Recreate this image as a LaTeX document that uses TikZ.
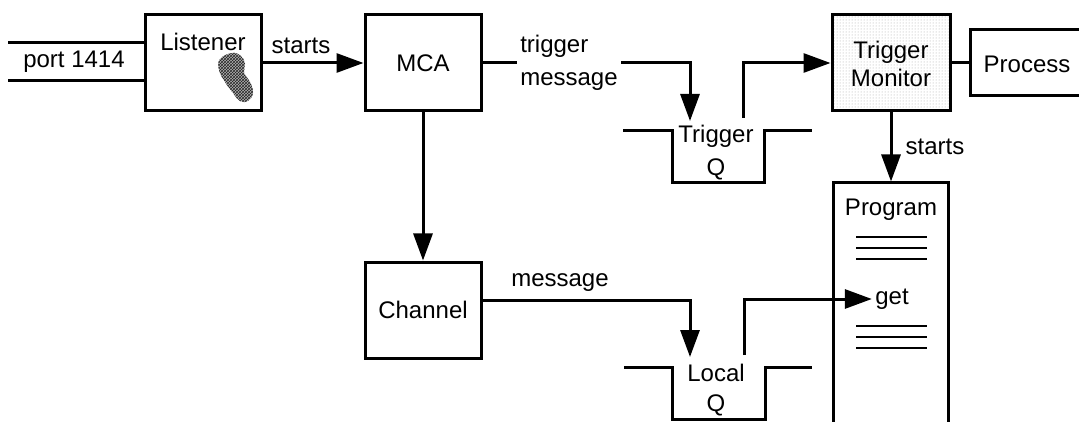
\documentclass[tikz,border=0pt]{standalone}
\usepackage{fontspec}
\setmainfont{Liberation Sans}
\usetikzlibrary{arrows.meta,patterns}
\begin{document}
\begin{tikzpicture}[x=1pt,y=-1pt,
  line width=3pt,
  every node/.style={font=\fontsize{24}{28}\selectfont, inner sep=2pt},
  box/.style={draw, line width=3pt, minimum width=116pt, minimum height=96pt, inner sep=0pt},
  lbl/.style={inner sep=2pt},
  arr/.style={-{Triangle[length=27pt,width=19pt]}},
  thin3/.style={line width=2.4pt}]
\useasboundingbox (0,0) rectangle (1079,422);
% port lines
\coordinate (p1a) at (8,43); \coordinate (p1b) at (145,43);
\coordinate (p2a) at (8,81); \coordinate (p2b) at (145,81);
\draw (p1a) -- (p1b);
\draw (p2a) -- (p2b);
\node[lbl] (port) at (74,62) {port 1414};
% Listener
\node[box] (listener) at (203,63) {};
\node[lbl] (listenerl) at (203,42) {Listener};
\fill[black!30]
  plot[smooth cycle, tension=0.7] coordinates {(232,53) (241,56) (245,64) (244,73) (250,82) (253,93) (248,101) (240,101) (233,93) (225,82) (219,70) (220,59)};
\fill[pattern=crosshatch, pattern color=black!85]
  plot[smooth cycle, tension=0.7] coordinates {(232,53) (241,56) (245,64) (244,73) (250,82) (253,93) (248,101) (240,101) (233,93) (225,82) (219,70) (220,59)};
% MCA
\node[box] (mca) at (423,63) {MCA};
\node[lbl] (starts1) at (301,46) {starts};
\draw[arr] (listener.east) -- (mca.west);
% trigger message
\node[lbl, align=left] (trigmsg) at (569,63) {trigger\\[5pt]message};
\draw (mca.east) -- (trigmsg.west);
\coordinate (tqin) at (690,121);
\draw[arr] (trigmsg.east) -| (tqin);
% Trigger Q
\coordinate (tq1) at (623,131); \coordinate (tq2) at (672,131);
\coordinate (tq3) at (672,183); \coordinate (tq4) at (764,183);
\coordinate (tq5) at (764,131); \coordinate (tq6) at (812,131);
\draw (tq1) -- (tq2) -- (tq3) -- (tq4) -- (tq5) -- (tq6);
\node[lbl] (tqa) at (716,136) {Trigger};
\node[lbl] (tqb) at (716,169) {Q};
% Trigger Monitor
\node[box, minimum width=118pt, fill=gray!8, pattern=dots, pattern color=gray!70] (tm) at (891,63) {};
\node[box, minimum width=118pt, fill=none] (tmb) at (891,63) {};
\node[lbl, align=center] (tml) at (891,64) {Trigger\\Monitor};
\coordinate (tqout) at (743,118);
\draw[arr] (tqout) |- (tm.west);
% Process
\node[box, minimum width=120pt, minimum height=66pt] (proc) at (1030,63) {};
\node[lbl] (procl) at (1027,64) {Process};
\draw (tm.east) -- (proc.west);
% Program
\node[draw, line width=3pt, minimum width=115pt, minimum height=250pt, inner sep=0pt] (prog) at (891,308) {};
\node[lbl] (progl) at (891,210) {Program};
\draw[arr] (tm.south) -- (prog.north);
\node[lbl] (starts2) at (935,147) {starts};
\foreach \yy [count=\i] in {237,248,259,326,337,348} {
  \coordinate (la\i) at (856,\yy); \coordinate (lb\i) at (927,\yy);
  \draw[thin3] (la\i) -- (lb\i);
}
\node[lbl] (get) at (892,299) {get};
% Channel
\node[box] (chan) at (423,310) {Channel};
\draw[arr] (mca.south) -- (chan.north);
\coordinate (lqin) at (690,357);
\draw[arr] ([yshift=10pt]chan.east) -| (lqin);
\node[lbl] (msg) at (560,283) {message};
% Local Q
\coordinate (lq1) at (624,367); \coordinate (lq2) at (672,367);
\coordinate (lq3) at (672,419); \coordinate (lq4) at (765,419);
\coordinate (lq5) at (765,367); \coordinate (lq6) at (812,367);
\draw (lq1) -- (lq2) -- (lq3) -- (lq4) -- (lq5) -- (lq6);
\node[lbl] (lqa) at (716,373) {Local};
\node[lbl] (lqb) at (716,405) {Q};
\coordinate (lqout) at (744,355);
\draw[arr] (lqout) |- (get.west);
\end{tikzpicture}
\end{document}
